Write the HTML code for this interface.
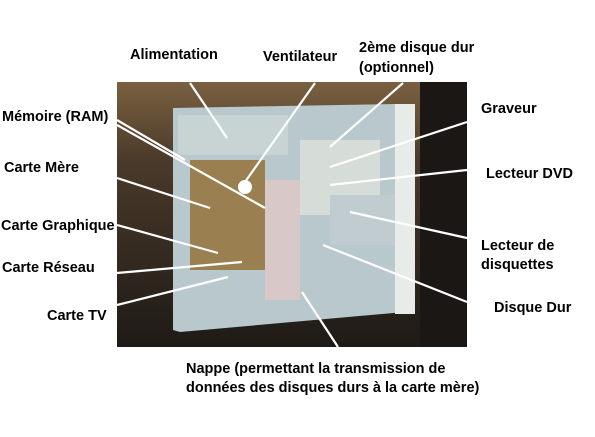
<!DOCTYPE html>
<html><head><meta charset="utf-8"><style>
body{margin:0;width:595px;height:437px;background:#fff;position:relative;overflow:hidden;font-family:"Liberation Sans",sans-serif}
.l{position:absolute;font-weight:bold;font-size:14.5px;color:#000;white-space:nowrap;line-height:17px}
svg{position:absolute;left:0;top:0}
</style></head><body>
<svg width="595" height="437">
<defs><linearGradient id="bg" x1="0" y1="0" x2="0" y2="1"><stop offset="0" stop-color="#7a6040"/><stop offset="0.3" stop-color="#4a3a2a"/><stop offset="1" stop-color="#1e1a16"/></linearGradient></defs>
<rect x="117" y="82" width="350" height="265" fill="url(#bg)"/>
<rect x="420" y="82" width="47" height="265" fill="#1a1714"/>
<polygon points="173,108 395,104 407,110 405,312 180,332 173,330" fill="#b8c8cc"/>
<rect x="178" y="115" width="110" height="40" fill="#c8d4d4"/>
<rect x="190" y="160" width="75" height="110" fill="#9a8050"/>
<rect x="300" y="140" width="80" height="75" fill="#d6dcd8"/>
<rect x="330" y="195" width="70" height="50" fill="#c0ccd0"/>
<rect x="265" y="180" width="35" height="120" fill="#d8c8c8"/>
<rect x="395" y="104" width="20" height="210" fill="#e8ece8"/>
<g stroke="#fff" stroke-width="2.2">
<line x1="190" y1="83" x2="227" y2="138"/>
<line x1="315" y1="83" x2="245" y2="182"/>
<line x1="403" y1="83" x2="330" y2="147"/>
<line x1="467" y1="122" x2="330" y2="167"/>
<line x1="467" y1="170" x2="330" y2="185"/>
<line x1="467" y1="238" x2="350" y2="212"/>
<line x1="467" y1="302" x2="323" y2="245"/>
<line x1="338" y1="347" x2="302" y2="292"/>
<line x1="117" y1="305" x2="228" y2="277"/>
<line x1="117" y1="273" x2="242" y2="262"/>
<line x1="117" y1="225" x2="218" y2="253"/>
<line x1="117" y1="178" x2="210" y2="208"/>
<line x1="117" y1="125" x2="265" y2="208"/>
<line x1="117" y1="120" x2="185" y2="160"/>
</g>
<circle cx="245" cy="187" r="7" fill="#fff"/>
</svg>
<div class="l" style="left:130px;top:47px">Alimentation</div>
<div class="l" style="left:263px;top:49px">Ventilateur</div>
<div class="l" style="left:359px;top:38px;line-height:20px">2ème disque dur<br>(optionnel)</div>
<div class="l" style="left:2px;top:109px">Mémoire (RAM)</div>
<div class="l" style="left:4px;top:160px">Carte Mère</div>
<div class="l" style="left:1px;top:218px">Carte Graphique</div>
<div class="l" style="left:2px;top:260px">Carte Réseau</div>
<div class="l" style="left:47px;top:308px">Carte TV</div>
<div class="l" style="left:481px;top:101px">Graveur</div>
<div class="l" style="left:486px;top:166px">Lecteur DVD</div>
<div class="l" style="left:481px;top:237px;line-height:19px">Lecteur de<br>disquettes</div>
<div class="l" style="left:494px;top:300px">Disque Dur</div>
<div class="l" style="left:186px;top:360px;line-height:18.5px">Nappe (permettant la transmission de<br>données des disques durs à la carte mère)</div>
</body></html>
